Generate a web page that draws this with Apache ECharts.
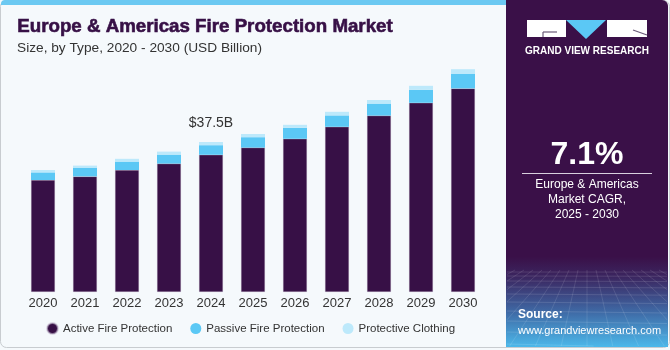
<!DOCTYPE html>
<html>
<head>
<meta charset="utf-8">
<script src="https://cdn.jsdelivr.net/npm/echarts@6/dist/echarts.min.js"></script>
<style>
html,body{margin:0;padding:0;background:#fff;}
#c{width:670px;height:350px;}
</style>
</head>
<body>
<div id="c"></div>
<script>
var years = ['2020','2021','2022','2023','2024','2025','2026','2027','2028','2029','2030'];
var activeFire = [28.0, 28.9, 30.5, 32.1, 34.3, 36.1, 38.3, 41.3, 44.1, 47.3, 50.9];
var passiveFire = [1.9, 2.1, 2.1, 2.25, 2.4, 2.6, 2.75, 2.85, 3.0, 3.25, 3.6];
var protectiveClothing = [0.6, 0.6, 0.7, 0.75, 0.8, 0.8, 0.75, 0.9, 0.9, 1.0, 1.2];
var seriesNames = ['Active Fire Protection', 'Passive Fire Protection', 'Protective Clothing'];
var highlightIndex = 4;
var highlightLabel = '$37.5B';

var chart = echarts.init(document.getElementById('c'), null, {renderer:'canvas'});
var font = 'Liberation Sans, Arial, sans-serif';

var clothingData = protectiveClothing.map(function(v, i){
  if (i === highlightIndex) {
    return {value: v, label: {show: true, position: 'top', distance: 12, formatter: highlightLabel,
      color: '#333', fontSize: 14, fontFamily: font}};
  }
  return v;
});

// decorative perspective mesh in the side panel, clipped to the panel
var PX0 = 507, PX1 = 667, PY0 = 268, PY1 = 346;
function clipSeg(x1, y1, x2, y2) {
  var t0 = 0, t1 = 1, dx = x2 - x1, dy = y2 - y1;
  var p = [-dx, dx, -dy, dy], q = [x1 - PX0, PX1 - x1, y1 - PY0, PY1 - y1];
  for (var i = 0; i < 4; i++) {
    if (p[i] === 0) { if (q[i] < 0) return null; }
    else {
      var r = q[i] / p[i];
      if (p[i] < 0) { if (r > t1) return null; if (r > t0) t0 = r; }
      else { if (r < t0) return null; if (r < t1) t1 = r; }
    }
  }
  return {x1: x1 + t0 * dx, y1: y1 + t0 * dy, x2: x1 + t1 * dx, y2: y1 + t1 * dy};
}
var meshLines = [];
(function(){
  var ys = [272, 276, 281, 287, 294, 302, 311, 321, 332, 344];
  ys.forEach(function(y){
    var s = clipSeg(506, y, 668, y + (y - 270) * 0.05);
    if (s) meshLines.push({type: 'line', shape: s, style: {stroke: 'rgba(255,255,255,0.12)', lineWidth: 1}, z: 11, silent: true});
  });
  for (var k = -14; k <= 14; k++) {
    var s = clipSeg(587 + k * 9, 270, 587 + k * 26, 347);
    if (s) meshLines.push({type: 'line', shape: s, style: {stroke: 'rgba(255,255,255,0.11)', lineWidth: 1}, z: 11, silent: true});
  }
})();

var graphics = [
  {type: 'rect', shape: {x: 1, y: 0, width: 505, height: 5, r: [4,0,0,0]}, style: {fill: '#6cc9f2'}, z: 10},
  {type: 'rect', shape: {x: 0.5, y: 0.5, width: 669, height: 347, r: 6}, style: {fill: 'none', stroke: '#c8ccd0', lineWidth: 1}, z: 9},
  {type: 'text', x: 17, y: 27, scaleX: 0.985, originX: 17, style: {text: 'Europe & Americas Fire Protection Market', fill: '#371046', stroke: '#371046', lineWidth: 0.6, font: 'bold 19px ' + font, verticalAlign: 'middle'}, z: 10},
  {type: 'text', x: 17, y: 48, style: {text: 'Size, by Type, 2020 - 2030 (USD Billion)', fill: '#333', font: '13.7px ' + font, verticalAlign: 'middle'}, z: 10},
  {type: 'rect', shape: {x: 506, y: 0, width: 162, height: 347, r: [0,6,0,0]},
   style: {fill: new echarts.graphic.LinearGradient(0, 0, 0, 1, [
     {offset: 0, color: '#3a1048'}, {offset: 0.74, color: '#3a1048'}, {offset: 0.8, color: '#3b2761'},
     {offset: 0.9, color: '#3f6aa6'}, {offset: 1, color: '#4cb8ea'}])}, z: 10},
  {type: 'rect', shape: {x: 527, y: 20, width: 39, height: 17}, style: {fill: '#fff'}, z: 11},
  {type: 'polygon', shape: {points: [[566,20],[606,20],[586,39]]}, style: {fill: '#5bc8f5'}, z: 11},
  {type: 'rect', shape: {x: 607, y: 20, width: 40, height: 17}, style: {fill: '#fff'}, z: 11},
  {type: 'line', shape: {x1: 543, y1: 32, x2: 557, y2: 32}, style: {stroke: '#6a5a78', lineWidth: 1.2}, z: 12},
  {type: 'line', shape: {x1: 543, y1: 32, x2: 543, y2: 37}, style: {stroke: '#6a5a78', lineWidth: 1.2}, z: 12},
  {type: 'line', shape: {x1: 633, y1: 30, x2: 647, y2: 35}, style: {stroke: '#6a5a78', lineWidth: 1.2}, z: 12},
  {type: 'text', x: 587, y: 51, style: {text: 'GRAND VIEW RESEARCH', fill: '#fff', font: 'bold 10px ' + font, align: 'center', verticalAlign: 'middle'}, z: 11},
  {type: 'text', x: 587, y: 155, style: {text: '7.1%', fill: '#fff', font: 'bold 32px ' + font, align: 'center', verticalAlign: 'middle'}, z: 11},
  {type: 'line', shape: {x1: 522, y1: 173.5, x2: 652, y2: 173.5}, style: {stroke: '#d8d0de', lineWidth: 1}, z: 11},
  {type: 'text', x: 587, y: 185, style: {text: 'Europe & Americas', fill: '#fff', font: '12px ' + font, align: 'center', verticalAlign: 'middle'}, z: 11},
  {type: 'text', x: 587, y: 200, style: {text: 'Market CAGR,', fill: '#fff', font: '12px ' + font, align: 'center', verticalAlign: 'middle'}, z: 11},
  {type: 'text', x: 587, y: 215, style: {text: '2025 - 2030', fill: '#fff', font: '12px ' + font, align: 'center', verticalAlign: 'middle'}, z: 11},
  {type: 'text', x: 518, y: 315, style: {text: 'Source:', fill: '#fff', font: 'bold 12px ' + font, verticalAlign: 'middle'}, z: 12},
  {type: 'text', x: 518, y: 331, style: {text: 'www.grandviewresearch.com', fill: '#fff', font: '11px ' + font, verticalAlign: 'middle'}, z: 12}
].concat(meshLines);

var option = {
  backgroundColor: '#f5f9fc',
  animation: false,
  grid: {left: 22, right: 186, top: 52, bottom: 58},
  xAxis: {
    type: 'category', data: years,
    axisLine: {show: false}, axisTick: {show: false},
    axisLabel: {color: '#333', fontSize: 13, fontFamily: font, margin: 5}
  },
  yAxis: {type: 'value', min: 0, max: 60, show: false, splitLine: {show: false}},
  legend: {
    data: seriesNames, left: 41, top: 317, icon: 'circle', itemWidth: 11, itemHeight: 11,
    itemGap: 18, textStyle: {color: '#333', fontSize: 11.5, fontFamily: font}
  },
  series: [
    {name: seriesNames[0], type: 'bar', stack: 't', data: activeFire, barWidth: 24,
     itemStyle: {color: '#371046', borderColor: 'rgba(200,190,210,0.6)', borderWidth: 0.5}},
    {name: seriesNames[1], type: 'bar', stack: 't', data: passiveFire, barWidth: 24,
     itemStyle: {color: '#5bc8f5'}},
    {name: seriesNames[2], type: 'bar', stack: 't', data: clothingData, barWidth: 24,
     itemStyle: {color: '#bde9fb'}}
  ],
  graphic: graphics
};
chart.setOption(option);
</script>
</body>
</html>
